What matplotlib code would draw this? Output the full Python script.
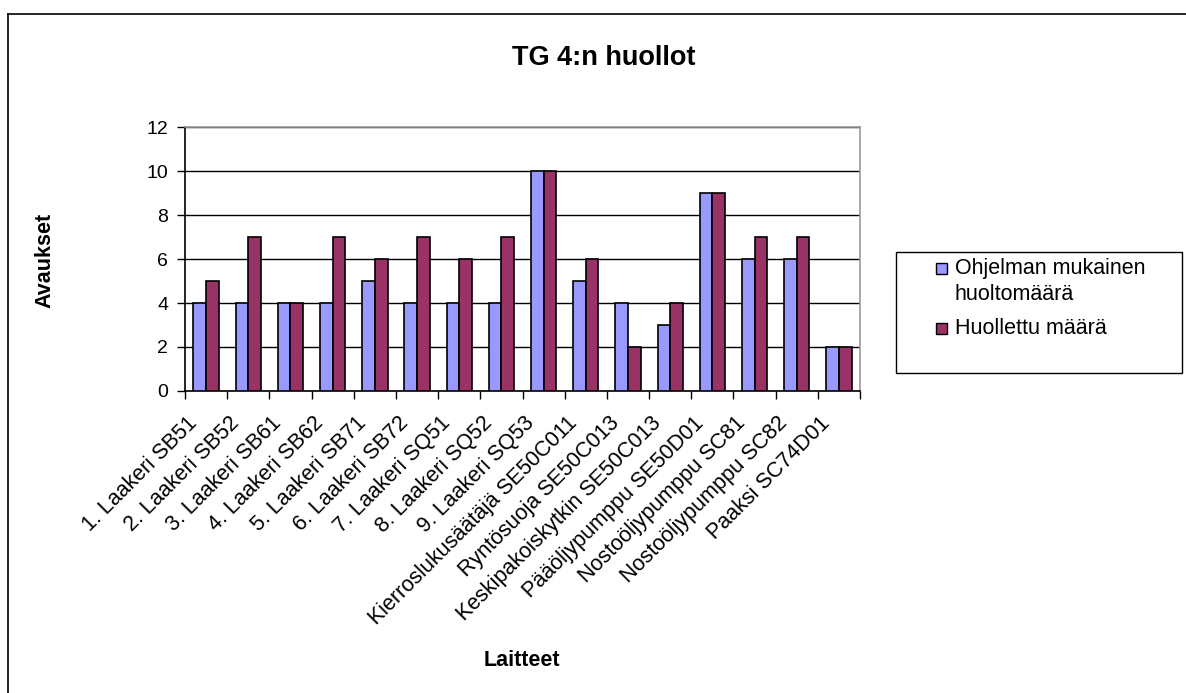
import matplotlib

matplotlib.use("Agg")
import matplotlib.pyplot as plt
import numpy as np
from matplotlib.lines import Line2D
from matplotlib.patches import Rectangle

plt.rcParams["font.family"] = ["Liberation Sans", "DejaVu Sans"]

categories = [
    "1. Laakeri SB51",
    "2. Laakeri SB52",
    "3. Laakeri SB61",
    "4. Laakeri SB62",
    "5. Laakeri SB71",
    "6. Laakeri SB72",
    "7. Laakeri SQ51",
    "8. Laakeri SQ52",
    "9. Laakeri SQ53",
    "Kierroslukusäätäjä SE50C011",
    "Ryntösuoja SE50C013",
    "Keskipakoiskytkin SE50C013",
    "Pääöljypumppu SE50D01",
    "Nostoöljypumppu SC81",
    "Nostoöljypumppu SC82",
    "Paaksi SC74D01",
]
planned = [4, 4, 4, 4, 5, 4, 4, 4, 10, 5, 4, 3, 9, 6, 6, 2]
done = [5, 7, 4, 7, 6, 7, 6, 7, 10, 6, 2, 4, 9, 7, 7, 2]
series_names = ["Ohjelman mukainen\nhuoltomäärä", "Huollettu määrä"]
colors = ["#9999FF", "#993366"]

W, H = 1186, 693
fig = plt.figure(figsize=(W / 100, H / 100), dpi=100)
ax = fig.add_axes((185 / W, 1 - 391 / H, 675 / W, 264 / H))

x = np.arange(len(categories))
bw = 0.3
ax.bar(x - bw / 2, planned, bw, color=colors[0], edgecolor="black", linewidth=1.2,
       zorder=3)
ax.bar(x + bw / 2, done, bw, color=colors[1], edgecolor="black", linewidth=1.2,
       zorder=3)

ax.set_xlim(-0.5, len(categories) - 0.5)
ax.set_ylim(0, 12)
ax.set_yticks(range(0, 13, 2))
ax.yaxis.grid(True, color="black", linewidth=1, zorder=0)
ax.set_axisbelow(True)

# category boundaries get the tick marks, labels sit at the centres
ax.set_xticks(np.arange(-0.5, len(categories)))
ax.set_xticklabels([])
ax.tick_params(axis="x", length=6, width=1, color="black")
ax.tick_params(axis="y", labelsize=14, length=6, width=1, pad=6)
for i, cat in enumerate(categories):
    ax.annotate(cat, xy=(i, 0), xycoords=ax.get_xaxis_transform(),
                xytext=(-12, -29), textcoords="offset pixels",
                rotation=45, ha="right", va="center", rotation_mode="anchor",
                fontsize=15.5)

for s in ["left", "bottom"]:
    ax.spines[s].set_color("black")
    ax.spines[s].set_linewidth(1.2)
for s in ["top", "right"]:
    ax.spines[s].set_color("#999999")
    ax.spines[s].set_linewidth(1.2)

fig.text(45 / W, 1 - 260 / H, "Avaukset", fontsize=15.5, fontweight="bold",
         rotation=90, ha="center", va="center")
fig.text(522 / W, 1 - 661 / H, "Laitteet", fontsize=15.5, fontweight="bold",
         ha="center", va="center")
fig.text(604 / W, 1 - 58 / H, "TG 4:n huollot", fontsize=19.5, fontweight="bold",
         ha="center", va="center")

# legend
fig.patches.append(Rectangle((896 / W, 1 - 373 / H), 286 / W, 121 / H,
                             transform=fig.transFigure, fill=False,
                             edgecolor="black", linewidth=1))
entry_y = [268, 328]
for name, col, ey in zip(series_names, colors, entry_y):
    fig.patches.append(Rectangle((936 / W, 1 - (ey + 5.5) / H), 11 / W, 11 / H,
                                 transform=fig.transFigure, facecolor=col,
                                 edgecolor="black", linewidth=1))
    for i, line in enumerate(name.split("\n")):
        fig.text(955 / W, 1 - (ey + 27 * i) / H, line, fontsize=15.5,
                 ha="left", va="center")

# outer chart border (only top and left edges fall inside the image)
fig.add_artist(Line2D([8 / W, 8 / W], [0, 1 - 14 / H], transform=fig.transFigure,
                      color="black", linewidth=1.2))
fig.add_artist(Line2D([8 / W, 1], [1 - 14 / H, 1 - 14 / H], transform=fig.transFigure,
                      color="black", linewidth=1.2))

fig.savefig("out.png", dpi=100)
